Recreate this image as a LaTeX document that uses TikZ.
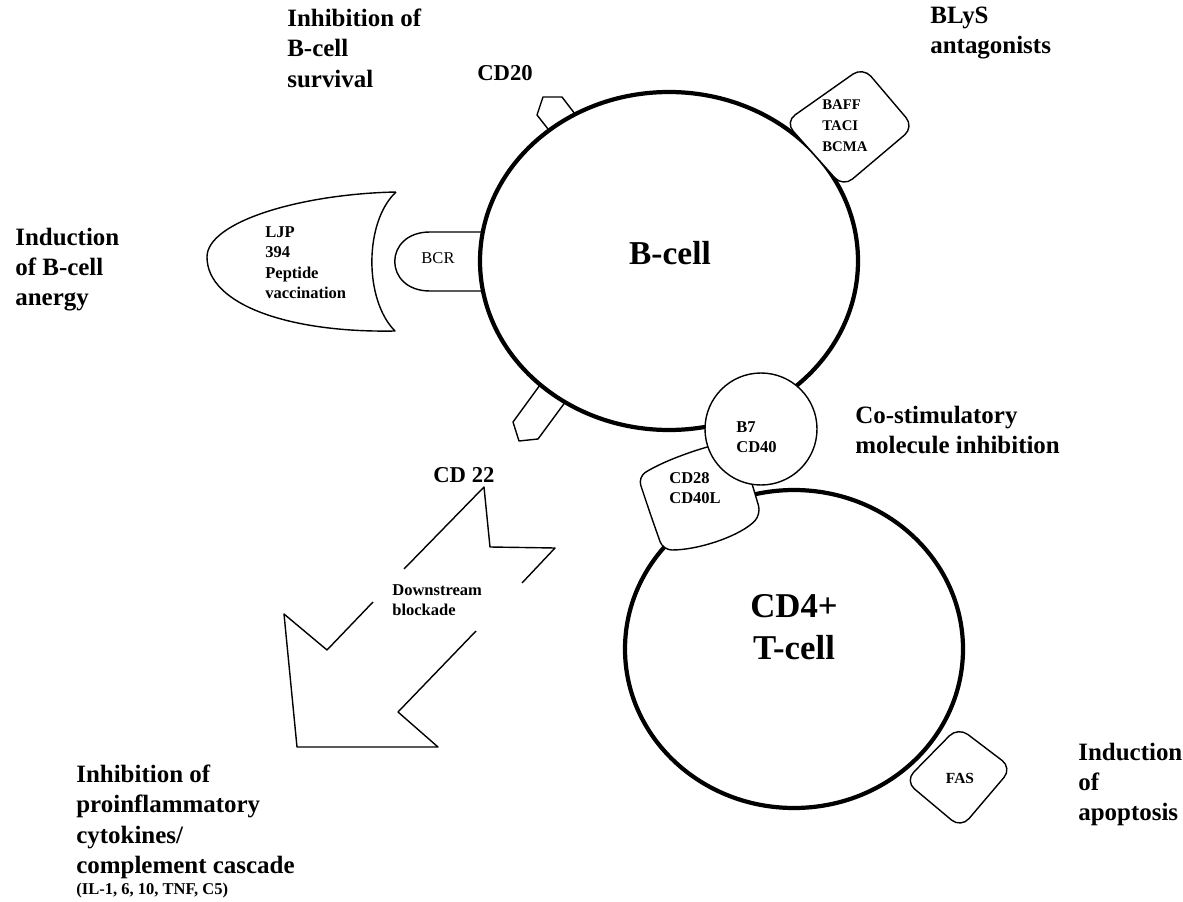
\documentclass[tikz,border=0pt]{standalone}
\usepackage{fontspec}
\setmainfont{Liberation Serif}
\begin{document}
\begin{tikzpicture}[x=0.02cm, y=-0.02cm, line join=round,
  cell/.style={line width=2.4pt},
  part/.style={draw, line width=0.8pt, fill=white},
  thinline/.style={line width=0.8pt},
  big/.style={anchor=north west, align=left, inner sep=0pt, font=\bfseries\fontsize{14.2}{17.1}\selectfont},
  small/.style={anchor=north west, align=left, inner sep=0pt, font=\bfseries\fontsize{9.4}{11.7}\selectfont}]
  \useasboundingbox (0,0) rectangle (1183,902);

  % B-cell and T-cell
  \draw[cell] (669,261) ellipse [x radius=189, y radius=169];
  \draw[cell] (794,649) ellipse [x radius=169, y radius=159];

  % receptors on the B-cell
  \draw[thinline] (548,129) -- (537,115) -- (543,97) -- (562,97) -- (575,114);
  \draw[thinline] (540,385) -- (513,422) -- (519,441) -- (538,439) -- (566,401);
  \draw[thinline] (483,232) -- (430,232) .. controls (383,232) and (383,291) .. (430,291) -- (483,291);
  \draw[part] (785,122) [rounded corners=7] -- (863,67) -- (914,127) -- (843,187) -- cycle;

  % LJP 394
  \draw[thinline] (396,192) .. controls (300,194) and (207,222) .. (207,257)
    .. controls (207,305) and (290,333) .. (395,331)
    .. controls (364,300) and (364,222) .. (396,192);

  % T-cell receptors
  \draw[part] (905,781) [rounded corners=7] -- (958,727) -- (1012,768) -- (961,828) -- cycle;
  \draw[part, rounded corners=5] (650,513) -- (638,477) .. controls (665,460) and (705,446) .. (739,440)
    -- (761,514) .. controls (742,535) and (700,550) .. (663,550) -- cycle;
  \draw[part] (761,429) circle [radius=56];

  % Downstream arrow
  \draw[thinline] (404,569) -- (484,487) -- (490,547) -- (555,548) -- (522,583);
  \draw[thinline] (476,631) -- (398,712) -- (438,747) -- (297,747) -- (284,614) -- (327,650) -- (373,602);

  % labels
  \node[font=\bfseries\fontsize{19}{23}\selectfont] (bcell) at (670,253) {B-cell};
  \node[align=center, font=\bfseries\fontsize{19.8}{23.9}\selectfont] (tcell) at (794,627) {CD4+\\T-cell};
  \node[font=\fontsize{9.4}{11}\selectfont] (bcr) at (438,258) {BCR};
  \node[small] (ljp) at (265,226) {LJP\\394\\Peptide\\vaccination};
  \node[small] (b7) at (736,421) {B7\\CD40};
  \node[small] (cd28) at (669,472) {CD28\\CD40L};
  \node[small] (down) at (392,584) {Downstream\\blockade};
  \node[anchor=north west, align=left, inner sep=0pt, font=\bfseries\fontsize{8.4}{12}\selectfont] (baff) at (822,99) {BAFF\\TACI\\BCMA};
  \node[font=\bfseries\fontsize{8.8}{10}\selectfont] (fas) at (960,778) {FAS};
  \node[anchor=north west, inner sep=0pt, font=\bfseries\fontsize{12.9}{15}\selectfont] (cd20) at (477,65) {CD20};
  \node[anchor=north west, inner sep=0pt, font=\bfseries\fontsize{12.9}{15}\selectfont] (cd22) at (433,467) {CD 22};

  \node[big] (survival) at (287,9) {Inhibition of\\B-cell\\survival};
  \node[big] (blys) at (930,7) {BLyS\\antagonists};
  \node[big] (anergy) at (15,228) {Induction\\of B-cell\\anergy};
  \node[big] (costim) at (855,406) {Co-stimulatory\\molecule inhibition};
  \node[big] (cytok) at (76,765) {Inhibition of\\proinflammatory\\cytokines/\\complement cascade};
  \node[small] (il) at (76,883) {(IL-1, 6, 10, TNF, C5)};
  \node[big] (apopt) at (1078,743) {Induction\\of\\apoptosis};
\end{tikzpicture}
\end{document}
